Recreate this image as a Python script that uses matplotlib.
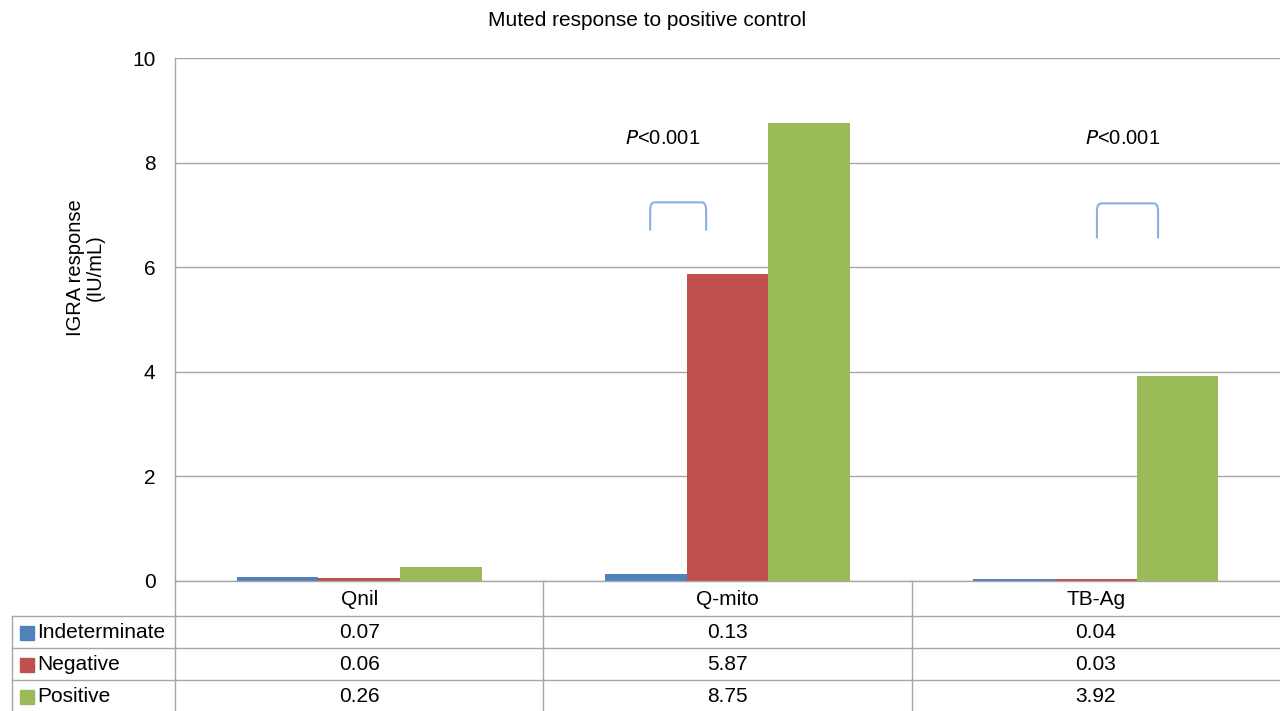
import matplotlib
matplotlib.use("Agg")
import matplotlib.pyplot as plt
from matplotlib.lines import Line2D
from matplotlib.patches import Rectangle
from matplotlib.path import Path
from matplotlib.patches import PathPatch
import matplotlib.transforms as mtransforms
import numpy as np

plt.rcParams['font.family'] = ['Liberation Sans', 'DejaVu Sans']

# ---- data ----
categories = ["Qnil", "Q-mito", "TB-Ag"]
series_names = ["Indeterminate", "Negative", "Positive"]
indeterminate = [0.07, 0.13, 0.04]
negative = [0.06, 5.87, 0.03]
positive = [0.26, 8.75, 3.92]
value_labels = {
    "Indeterminate": ["0.07", "0.13", "0.04"],
    "Negative": ["0.06", "5.87", "0.03"],
    "Positive": ["0.26", "8.75", "3.92"],
}
yticks = [0, 2, 4, 6, 8, 10]
title = "Muted response to positive control"
ylabel = "IGRA response\n(IU/mL)"
colors = ["#4F81BD", "#C0504D", "#9BBB59"]
grid_color = "#A6A6A6"
bracket_color = "#8DB0DA"

W, H = 1280, 711
fig = plt.figure(figsize=(W / 100, H / 100), dpi=100)

def fx(px):
    return px / W

def fy(py):
    return 1 - py / H

ax_left, ax_right, ax_top, ax_bottom = 175, 1280, 58, 581
ax = fig.add_axes([fx(ax_left), fy(ax_bottom), fx(ax_right - ax_left), (ax_bottom - ax_top) / H])

series = [indeterminate, negative, positive]
x = np.arange(len(categories))
bw = 0.222
for i, (vals, c) in enumerate(zip(series, colors)):
    ax.bar(x + (i - 1) * bw, vals, width=bw, color=c, zorder=3, linewidth=0)

ax.set_xlim(-0.5, len(categories) - 0.5)
ax.set_ylim(0, 10)
ax.set_yticks(yticks)
ax.set_yticklabels([str(t) for t in yticks], fontsize=15)
ax.tick_params(axis='y', length=0, pad=14)
ax.set_xticks([])
ax.grid(axis='y', color=grid_color, linewidth=1.0, zorder=0)
for s in ["top", "right", "bottom"]:
    ax.spines[s].set_visible(False)
ax.spines["left"].set_color(grid_color)
ax.spines["left"].set_linewidth(1.0)

# title and ylabel
fig.text(fx(647), fy(20), title, ha="center", va="center", fontsize=15)
fig.text(fx(85), fy(268), ylabel, ha="center", va="center", rotation=90,
         fontsize=14.5, linespacing=1.05)

# significance annotations
def bracket(x0, x1, y0, y1):
    r = 0.012
    ry = 0.15
    verts = [(x0, y0), (x0, y1 - ry), (x0, y1), (x0 + r, y1),
             (x1 - r, y1), (x1, y1), (x1, y1 - ry), (x1, y0)]
    codes = [Path.MOVETO, Path.LINETO, Path.CURVE3, Path.CURVE3,
             Path.LINETO, Path.CURVE3, Path.CURVE3, Path.LINETO]
    ax.add_patch(PathPatch(Path(verts, codes), fill=False, edgecolor=bracket_color,
                           linewidth=1.5, zorder=4))

bracket(0.79, 0.942, 6.70, 7.24)
bracket(2.003, 2.169, 6.55, 7.22)
for xc in [0.825, 2.072]:
    ax.text(xc, 8.47, r"$\it{P}$<0.001", ha="center", va="center", fontsize=14.5)

# ---- data table ----
row_lines = [581, 616, 648, 680, 711]
col_edges = [175, 543, 912, 1280]
tbl_left = 12

def hline(py, x0, x1):
    fig.add_artist(Line2D([fx(x0), fx(x1)], [fy(py), fy(py)], color=grid_color, lw=1.0))

def vline(px, y0, y1):
    fig.add_artist(Line2D([fx(px), fx(px)], [fy(y0), fy(y1)], color=grid_color, lw=1.0))

hline(row_lines[0], col_edges[0], W)
for py in row_lines[1:4]:
    hline(py, tbl_left, W)
for px in col_edges[:3]:
    vline(px, row_lines[0], H)
vline(tbl_left, row_lines[1], H)

trans = mtransforms.blended_transform_factory(ax.transData, fig.transFigure)
head_y = (row_lines[0] + row_lines[1]) / 2 + 1
for xi, cat in zip(x, categories):
    fig.text(xi, fy(head_y), cat, transform=trans, ha="center", va="center", fontsize=15)

for r, (name, c) in enumerate(zip(series_names, colors)):
    yc = (row_lines[r + 1] + row_lines[r + 2]) / 2 + 1
    fig.add_artist(Rectangle((fx(20), fy(yc + 7)), fx(14), 14 / H, color=c,
                             transform=fig.transFigure))
    fig.text(fx(37), fy(yc), name, ha="left", va="center", fontsize=15)
    for xi, lab in zip(x, value_labels[name]):
        fig.text(xi, fy(yc), lab, transform=trans, ha="center", va="center", fontsize=15)

fig.savefig("out.png", dpi=100)
